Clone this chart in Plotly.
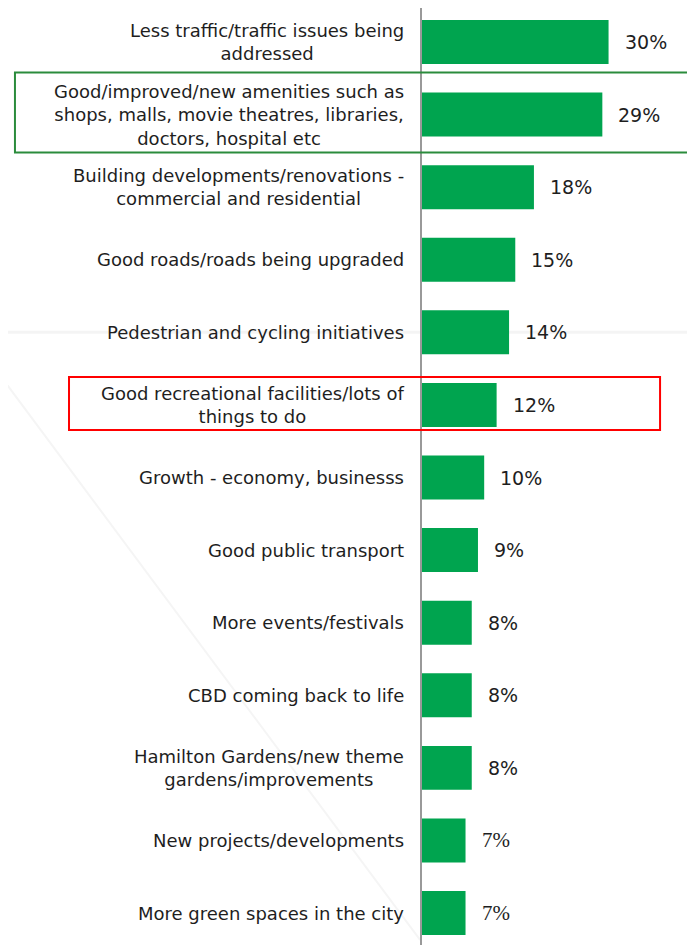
import plotly.graph_objects as go

labels = [
    "Less traffic/traffic issues being<br>addressed",
    "Good/improved/new amenities such as<br>shops, malls, movie theatres, libraries,<br>doctors, hospital etc",
    "Building developments/renovations -<br>commercial and residential",
    "Good roads/roads being upgraded",
    "Pedestrian and cycling initiatives",
    "Good recreational facilities/lots of<br>things to do",
    "Growth - economy, businesss",
    "Good public transport",
    "More events/festivals",
    "CBD coming back to life",
    "Hamilton Gardens/new theme<br>gardens/improvements",
    "New projects/developments",
    "More green spaces in the city",
]
values = [30, 29, 18, 15, 14, 12, 10, 9, 8, 8, 8, 7, 7]
value_text = ["30%", "29%", "18%", "15%", "14%", "12%", "10%", "9%", "8%", "8%", "8%", "7%", "7%"]

GREEN = "#00a44f"
FONT = "DejaVu Sans"

fig = go.Figure(go.Bar(
    x=values,
    y=labels,
    orientation="h",
    marker_color=GREEN,
    marker_line_width=0,
    width=0.606,
    hoverinfo="skip",
))

# category labels, centred lines, right edge just left of the axis
for lab in labels:
    fig.add_annotation(
        x=0, xref="paper", y=lab, yref="y",
        text=lab, showarrow=False,
        xanchor="right", align="center", xshift=-16,
        font=dict(family=FONT, size=18, color="#1e1e1e"),
    )

# value labels beyond the bars (last two were set in a serif face)
for i, (lab, v, t) in enumerate(zip(labels, values, value_text)):
    fam = "Liberation Serif, DejaVu Serif, serif" if i >= 11 else FONT
    fig.add_annotation(
        x=v, xref="x", y=lab, yref="y",
        text=t, showarrow=False, xanchor="left", xshift=14,
        font=dict(family=fam, size=21 if i >= 11 else 19, color="#1e1e1e"),
    )

shapes = [
    # faint background strokes
    dict(type="line", xref="paper", yref="y", x0=-1.6, x1=1.05, y0=4.0, y1=4.0,
         line=dict(color="#f4f4f4", width=3), layer="below"),
    dict(type="line", xref="paper", yref="y", x0=-1.546, x1=-0.007, y0=4.59, y1=12.37,
         line=dict(color="#f5f5f5", width=2), layer="below"),
    # highlight boxes
    dict(type="rect", xref="paper", yref="y", x0=-1.491, x1=1.01, y0=1 - 0.579, y1=1 + 0.524,
         line=dict(color="#2b8c3c", width=2), fillcolor="rgba(0,0,0,0)"),
    dict(type="rect", xref="paper", yref="y", x0=-1.293, x1=0.872, y0=5 - 0.386, y1=5 + 0.344,
         line=dict(color="#ff0000", width=2), fillcolor="rgba(0,0,0,0)"),
    # dashed edge bottom right
    dict(type="line", xref="paper", yref="paper", x0=0.99, x1=0.99, y0=0, y1=0.112,
         line=dict(color="#999999", width=1.5, dash="dash")),
]

fig.update_layout(
    width=687, height=937,
    margin=dict(l=414, r=0, t=0, b=0),
    paper_bgcolor="white", plot_bgcolor="white",
    showlegend=False,
    shapes=shapes,
    xaxis=dict(range=[0, 43.9], showgrid=False, zeroline=False, showticklabels=False, ticks=""),
    yaxis=dict(range=[12.44, -0.468], showgrid=False, zeroline=False, showticklabels=False, ticks="",
               showline=True, linecolor="#999999", linewidth=2),
)

fig.write_html("out.html")
